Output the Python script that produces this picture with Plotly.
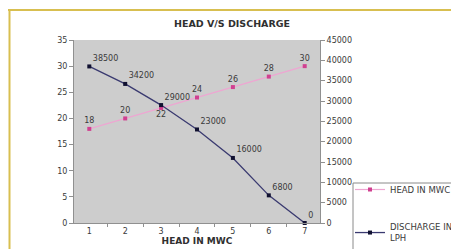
import plotly.graph_objects as go

categories = ["1", "2", "3", "4", "5", "6", "7"]
head_mwc = [18, 20, 22, 24, 26, 28, 30]
discharge_lph = [38500, 34200, 29000, 23000, 16000, 6800, 0]
head_text_pos = ["top center", "top center", "bottom center", "top center", "top center", "top center", "top center"]
dis_text_pos = ["top right"] * 7

W, H = 459, 249
L, R, T, B = 66, 147, 32, 34
pw, ph = W - L - R, H - T - B

def px(x):
    return (x - L) / pw

def py(y):
    return (H - B - y) / ph

FONT = "DejaVu Sans, Liberation Sans, sans-serif"
TXT = "#3a3a3a"

fig = go.Figure()
fig.add_trace(go.Scatter(
    x=categories, y=head_mwc, name="HEAD IN MWC", mode="lines+markers+text",
    text=[str(v) for v in head_mwc], textposition=head_text_pos,
    textfont=dict(family=FONT, size=8, color=TXT),
    line=dict(color="#eea6d2", width=1.2),
    marker=dict(symbol="square", size=4, color="#d04090"),
    legendgroup="a", yaxis="y", cliponaxis=False,
))
fig.add_trace(go.Scatter(
    x=categories, y=discharge_lph, name="DISCHARGE IN<br>LPH", mode="lines+markers+text",
    text=[str(v) for v in discharge_lph], textposition=dis_text_pos,
    textfont=dict(family=FONT, size=8, color=TXT),
    line=dict(color="#3a3a70", width=1.3),
    marker=dict(symbol="square", size=4, color="#101030"),
    legendgroup="b", yaxis="y2", cliponaxis=False,
))

fig.update_layout(
    width=W, height=H,
    margin=dict(l=L, r=R, t=T, b=B, pad=0, autoexpand=False),
    paper_bgcolor="white", plot_bgcolor="#cdcdcd",
    font=dict(family=FONT, size=8, color=TXT),
    title=dict(text="<b>HEAD V/S DISCHARGE</b>", x=224 / W, xref="container", xanchor="center",
               y=1 - 16 / H, yref="container", yanchor="middle",
               font=dict(size=9.5, color="#303030")),
    xaxis=dict(type="category", tickson="boundaries", ticks="outside", ticklen=3,
               tickcolor="#909090", showline=True, linecolor="#909090", showgrid=False,
               tickfont=dict(size=8), automargin=False,
               title=dict(text="<b>HEAD IN MWC</b>", font=dict(size=9, color="#303030"), standoff=0)),
    yaxis=dict(range=[0, 35], dtick=5, ticks="outside", ticklen=4, tickcolor="#909090",
               showline=True, linecolor="#909090", showgrid=False, zeroline=False,
               tickfont=dict(size=8), automargin=False),
    yaxis2=dict(range=[0, 45000], dtick=5000, overlaying="y", side="right", ticks="outside",
                ticklen=4, tickcolor="#909090", showline=True, linecolor="#909090",
                showgrid=False, zeroline=False, tickformat="d", tickfont=dict(size=8),
                automargin=False),
    legend=dict(x=px(342), y=py(167), xanchor="left", yanchor="top",
                bgcolor="rgba(0,0,0,0)", borderwidth=0,
                font=dict(size=8.5, color=TXT), itemwidth=30, tracegroupgap=21,
                traceorder="grouped"),
    shapes=[
        dict(type="line", xref="paper", yref="paper", x0=px(0), x1=px(470), y0=py(2), y1=py(2),
             line=dict(color="#d8bf50", width=2), layer="above"),
        dict(type="line", xref="paper", yref="paper", x0=px(1.5), x1=px(1.5), y0=py(1), y1=py(247),
             line=dict(color="#d8bf50", width=2), layer="above"),
        dict(type="line", xref="paper", yref="paper", x0=px(0), x1=px(470), y0=py(247.5), y1=py(247.5),
             line=dict(color="#8a8a8a", width=2), layer="above"),
        dict(type="line", xref="paper", yref="paper", x0=px(345), x1=px(470), y0=py(175), y1=py(175),
             line=dict(color="#8a8a8a", width=1), layer="above"),
        dict(type="line", xref="paper", yref="paper", x0=px(345), x1=px(345), y0=py(175), y1=py(260),
             line=dict(color="#8a8a8a", width=1), layer="above"),
    ],
)

fig.write_html("out.html")
